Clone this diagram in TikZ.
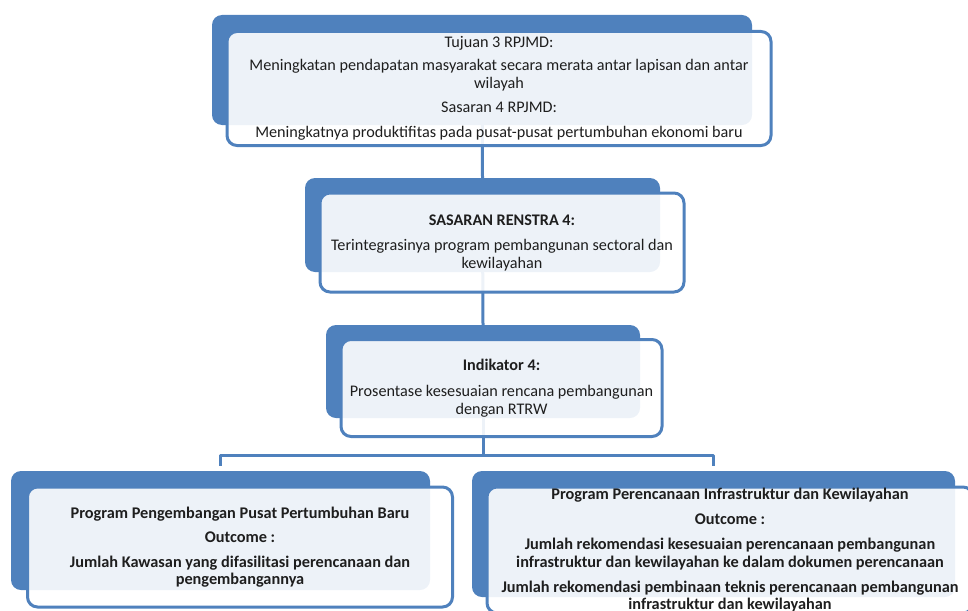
\documentclass[tikz,border=0pt]{standalone}
\usepackage{fontspec}
\setmainfont{Carlito}
\usetikzlibrary{calc}
\definecolor{accent}{HTML}{4F81BD}
\definecolor{ink}{HTML}{1E1E1E}
\tikzset{
  backbox/.style={fill=accent, rounded corners=10pt, inner sep=0pt, draw=none},
  frontbox/.style={draw=accent, line width=3pt, fill=white, fill opacity=0.9,
    text opacity=1, rounded corners=10pt, inner sep=0pt, align=center,
    text=ink, font=\fontsize{16.2}{18}\selectfont},
  boldtext/.style={font=\bfseries\fontsize{16.3}{17.5}\selectfont},
  link/.style={draw=accent, line width=3pt, line join=round},
}
\begin{document}
\begin{tikzpicture}[x=1pt, y=-1pt]
\useasboundingbox (0,0) rectangle (968,610);
\clip (0,0) rectangle (968,610);

% back plates
\node[backbox, minimum width=540pt, minimum height=110pt] (tback) at (482,70) {};
\node[backbox, minimum width=355pt, minimum height=94pt] (sback) at (482.5,225) {};
\node[backbox, minimum width=314pt, minimum height=93pt] (iback) at (483,371.5) {};
\node[backbox, minimum width=419pt, minimum height=119pt] (lback) at (220.5,530.5) {};
\node[backbox, minimum width=483pt, minimum height=126pt] (rback) at (713.5,534) {};

% connectors, kept behind the front panels
\draw[link] (tback.center) -- (sback.north);
\draw[link] (sback.center) -- (iback.north);
\coordinate (bus) at (483,455);
\draw[link] (iback.center) -- (iback.center |- bus);
\draw[link] ([yshift=5pt]lback.north) |- (bus) -| ([yshift=5pt]rback.north);

% front panels with their texts
\node[frontbox, minimum width=544pt, minimum height=114pt] (tfront) at (499,88.5) {%
  Tujuan 3 RPJMD:\\[5pt]
  Meningkatan pendapatan masyarakat secara merata antar lapisan dan antar\\
  wilayah\\[6pt]
  Sasaran 4 RPJMD:\\[7pt]
  Meningkatnya produktifitas pada pusat-pusat pertumbuhan ekonomi baru};
\node[frontbox, minimum width=364pt, minimum height=99pt] (sfront) at (502,242.5) {%
  \textbf{SASARAN RENSTRA 4:}\\[7pt]
  Terintegrasinya program pembangunan sectoral dan\\
  kewilayahan};
\node[frontbox, minimum width=321pt, minimum height=97pt] (ifront) at (501.5,388) {%
  \textbf{Indikator 4:}\\[8pt]
  Prosentase kesesuaian rencana pembangunan\\
  dengan RTRW};
\node[frontbox, boldtext, minimum width=425pt, minimum height=120pt] (lfront) at (240,547) {%
  Program Pengembangan Pusat Pertumbuhan Baru\\[7pt]
  Outcome :\\[7pt]
  Jumlah Kawasan yang difasilitasi perencanaan dan\\
  pengembangannya};
\node[frontbox, boldtext, minimum width=486pt, minimum height=126pt] (rfront) at (730,550) {%
  Program Perencanaan Infrastruktur dan Kewilayahan\\[7.5pt]
  Outcome :\\[8pt]
  Jumlah rekomendasi kesesuaian perencanaan pembangunan\\
  infrastruktur dan kewilayahan ke dalam dokumen perencanaan\\[7.5pt]
  Jumlah rekomendasi pembinaan teknis perencanaan pembangunan\\
  infrastruktur dan kewilayahan};
\end{tikzpicture}
\end{document}
